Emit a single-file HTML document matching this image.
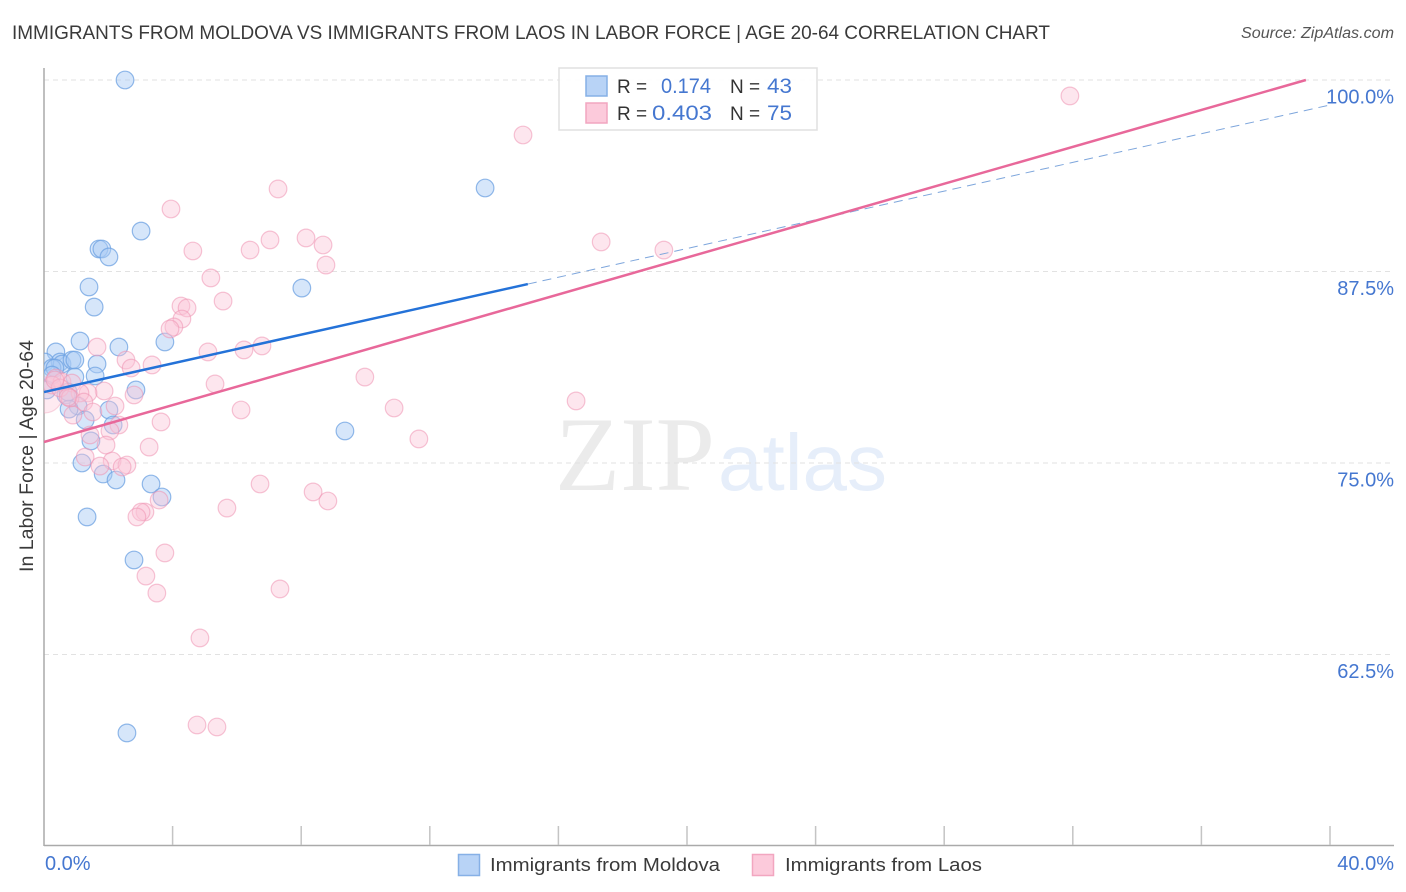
<!DOCTYPE html>
<html lang="en">
<head>
<meta charset="utf-8">
<title>Immigrants from Moldova vs Immigrants from Laos correlation chart</title>
<style>
html,body{margin:0;padding:0;background:#fff;}
body{width:1406px;height:892px;overflow:hidden;}
svg{display:block;font-family:"Liberation Sans",sans-serif;}
</style>
</head>
<body>
<svg id="chart" width="1406" height="892" viewBox="0 0 1406 892" xmlns="http://www.w3.org/2000/svg">
  <defs><clipPath id="plot-clip"><rect x="44" y="60" width="1350" height="785"/></clipPath></defs>
  <text x="12" y="39" font-size="19.5" fill="#3a3a3a" textLength="1038" lengthAdjust="spacingAndGlyphs">IMMIGRANTS FROM MOLDOVA VS IMMIGRANTS FROM LAOS IN LABOR FORCE | AGE 20-64 CORRELATION CHART</text>
  <text x="1394" y="38" font-size="15.5" font-style="italic" fill="#555" text-anchor="end" textLength="153" lengthAdjust="spacingAndGlyphs">Source: ZipAtlas.com</text>
  <g>
    <text x="555" y="490" font-family="'Liberation Serif',serif" font-size="106" fill="#ebebeb" textLength="160" lengthAdjust="spacingAndGlyphs">ZIP</text>
    <text x="718" y="490" font-size="80" fill="#e6eefa" textLength="169" lengthAdjust="spacingAndGlyphs">atlas</text>
  </g>
  <g id="grid"></g>
  <g id="axes"></g>
  <g id="marks" clip-path="url(#plot-clip)"></g>
  <g id="lines"></g>
  <text transform="translate(33,456) rotate(-90)" font-size="19.5" fill="#3a3a3a" text-anchor="middle" textLength="232" lengthAdjust="spacingAndGlyphs">In Labor Force | Age 20-64</text>
  <g>
    <rect x="559" y="68" width="258" height="62" fill="#fff" fill-opacity="0.9" stroke="#e0e0e0" stroke-width="1.5"/>
    <rect x="586" y="76" width="21" height="20" fill="#b8d3f6" stroke="#86b0e6" stroke-width="1.5"/>
    <rect x="586" y="103" width="21" height="20" fill="#fccadb" stroke="#f2a6c0" stroke-width="1.5"/>
    <text x="617" y="93" font-size="19" fill="#333">R =</text>
    <text x="661" y="93" font-size="21.5" fill="#4577d0" textLength="50" lengthAdjust="spacingAndGlyphs">0.174</text>
    <text x="730" y="93" font-size="19" fill="#333">N =</text>
    <text x="767" y="93" font-size="21.5" fill="#4577d0" textLength="25" lengthAdjust="spacingAndGlyphs">43</text>
    <text x="617" y="120" font-size="19" fill="#333">R =</text>
    <text x="652" y="120" font-size="21.5" fill="#4577d0" textLength="60" lengthAdjust="spacingAndGlyphs">0.403</text>
    <text x="730" y="120" font-size="19" fill="#333">N =</text>
    <text x="767" y="120" font-size="21.5" fill="#4577d0" textLength="25" lengthAdjust="spacingAndGlyphs">75</text>
  </g>
  <g>
    <rect x="458.5" y="854.5" width="21" height="21" fill="#b8d3f6" stroke="#86b0e6" stroke-width="1.5"/>
    <text x="490" y="871" font-size="18.5" fill="#3a3a3a" textLength="230" lengthAdjust="spacingAndGlyphs">Immigrants from Moldova</text>
    <rect x="752.5" y="854.5" width="21" height="21" fill="#fccadb" stroke="#f2a6c0" stroke-width="1.5"/>
    <text x="785" y="871" font-size="18.5" fill="#3a3a3a" textLength="197" lengthAdjust="spacingAndGlyphs">Immigrants from Laos</text>
  </g>
</svg>
<script>
const yTickValues = [100, 87.5, 75, 62.5];
const yTickLabels = ["100.0%", "87.5%", "75.0%", "62.5%"];
const xTickValues = [0, 4, 8, 12, 16, 20, 24, 28, 32, 36, 40];
const xEndValues = [0, 40];
const xEndLabels = ["0.0%", "40.0%"];

const moldovaX = [2.52,13.72,3.02,1.71,1.80,2.02,8.02,1.40,1.56,1.12,0.37,2.33,3.76,0.03,0.50,0.56,0.87,0.96,1.65,0.25,0.34,0.96,1.59,0.25,2.86,0.09,0.68,1.06,0.78,2.02,1.28,2.15,1.46,1.18,1.84,2.24,3.33,3.67,9.36,1.34,2.80,2.58,0.75];
const moldovaY = [100.0,92.95,90.14,88.97,88.97,88.45,86.42,86.49,85.18,82.96,82.25,82.57,82.90,81.59,81.59,81.46,81.72,81.72,81.46,81.20,81.20,80.61,80.68,80.74,79.77,79.77,79.44,78.72,78.52,78.46,77.81,77.48,76.44,75.00,74.28,73.89,73.63,72.78,77.09,71.48,68.67,57.38,79.63];

const laosX = [31.91,14.90,7.28,3.95,17.33,7.03,8.15,8.68,4.63,6.41,19.28,8.77,5.19,5.57,4.26,4.45,4.29,4.04,3.92,6.78,6.22,5.10,1.65,2.55,3.36,2.71,9.98,5.32,0.37,0.56,0.87,0.25,0.50,1.87,1.37,2.80,1.12,0.81,0.75,1.24,16.55,10.89,6.13,2.21,1.52,0.90,3.64,2.33,2.05,11.66,1.43,1.93,3.27,1.28,2.12,1.74,2.58,2.43,6.72,8.37,8.83,5.69,3.58,3.14,3.02,2.89,3.76,3.17,7.34,3.51,4.85,4.76,5.38,0.34];
const laosY = [98.96,96.41,92.89,91.58,89.43,89.56,89.69,89.23,88.84,88.90,88.90,87.92,87.08,85.57,85.25,85.12,84.40,83.88,83.75,82.64,82.38,82.25,82.57,81.72,81.40,81.20,80.61,80.16,80.55,80.29,80.22,80.09,79.90,79.70,79.57,79.44,79.57,79.24,79.31,78.98,79.05,78.59,78.46,78.72,78.33,78.13,77.68,77.48,77.09,76.57,76.83,76.17,76.04,75.39,75.13,74.80,74.87,74.74,73.63,73.11,72.52,72.06,72.58,71.80,71.80,71.48,69.13,67.62,66.78,66.51,63.58,57.90,57.77,80.42];
const laosHeavyX = [0.02];
const laosHeavyY = [79.44];

const moldovaTrendX = [0, 15.05, 40];
const moldovaTrendY = [79.63, 86.68, 98.37];
const laosTrendX = [0, 39.25];
const laosTrendY = [76.37, 100];

const NS = "http://www.w3.org/2000/svg";
function xScale(v) { return 44 + v * (1330 - 44) / 40; }
function yScale(v) { return 80 + (100 - v) * (654.5 - 80) / 37.5; }
function make(tag, attrs, parent) {
  const el = document.createElementNS(NS, tag);
  for (const k in attrs) el.setAttribute(k, attrs[k]);
  parent.appendChild(el);
  return el;
}
const grid = document.getElementById("grid");
const axes = document.getElementById("axes");
const marks = document.getElementById("marks");
const lines = document.getElementById("lines");

yTickValues.forEach(function (v, i) {
  const g = make("line", {x1: 44, x2: 1394, y1: yScale(v), y2: yScale(v), stroke: "#e2e2e2", "stroke-width": 1, "stroke-dasharray": "5 4"}, grid);
  
  
  const t = make("text", {x: 1394, y: yScale(v) + 23.5, "font-size": 20, fill: "#4577d0", "text-anchor": "end"}, axes);
  t.textContent = yTickLabels[i];
  
  
});

const leftAxis = make("line", {x1: 44, x2: 44, y1: 68, y2: 846, stroke: "#aaa", "stroke-width": 1.5}, axes);


const bottomAxis = make("line", {x1: 44, x2: 1394, y1: 845.5, y2: 845.5, stroke: "#aaa", "stroke-width": 1.5}, axes);



xTickValues.slice(1).forEach(function (v) {
  const tick = make("line", {x1: xScale(v), x2: xScale(v), y1: 826, y2: 845, stroke: "#c4c4c4", "stroke-width": 1.5}, axes);
  
  
});
xEndValues.forEach(function (v, i) {
  const t = make("text", {x: i === 0 ? xScale(v) + 1 : 1394, y: 870, "font-size": 20, fill: "#4577d0", "text-anchor": i === 0 ? "start" : "end"}, axes);
  t.textContent = xEndLabels[i];
  
  
});

moldovaX.forEach(function (v, i) {
  const c = make("circle", {cx: xScale(v), cy: yScale(moldovaY[i]), r: 8.8, fill: "#a9cbf5", "fill-opacity": 0.48, stroke: "#6ea2e2", "stroke-opacity": 0.75, "stroke-width": 1.2}, marks);
  
  
});
laosHeavyX.forEach(function (v, i) {
  const c = make("circle", {cx: xScale(v), cy: yScale(laosHeavyY[i]), r: 18, fill: "#fbc4d6", "fill-opacity": 0.35, stroke: "#f0a0ba", "stroke-opacity": 0.4, "stroke-width": 1.2}, marks);
  
  
});
laosX.forEach(function (v, i) {
  const c = make("circle", {cx: xScale(v), cy: yScale(laosY[i]), r: 8.8, fill: "#fbc4d6", "fill-opacity": 0.42, stroke: "#ee94b2", "stroke-opacity": 0.55, "stroke-width": 1.2}, marks);
  
  
});

const moldovaSolid = make("line", {x1: xScale(moldovaTrendX[0]), y1: yScale(moldovaTrendY[0]), x2: xScale(moldovaTrendX[1]), y2: yScale(moldovaTrendY[1]), stroke: "#2472d8", "stroke-width": 2.5}, lines);


const moldovaDashed = make("line", {x1: xScale(moldovaTrendX[1]), y1: yScale(moldovaTrendY[1]), x2: xScale(moldovaTrendX[2]), y2: yScale(moldovaTrendY[2]), stroke: "#7ea6dc", "stroke-width": 1, "stroke-dasharray": "9 6"}, lines);


const laosLine = make("line", {x1: xScale(laosTrendX[0]), y1: yScale(laosTrendY[0]), x2: xScale(laosTrendX[1]), y2: yScale(laosTrendY[1]), stroke: "#e8689a", "stroke-width": 2.5}, lines);


</script>
</body>
</html>
